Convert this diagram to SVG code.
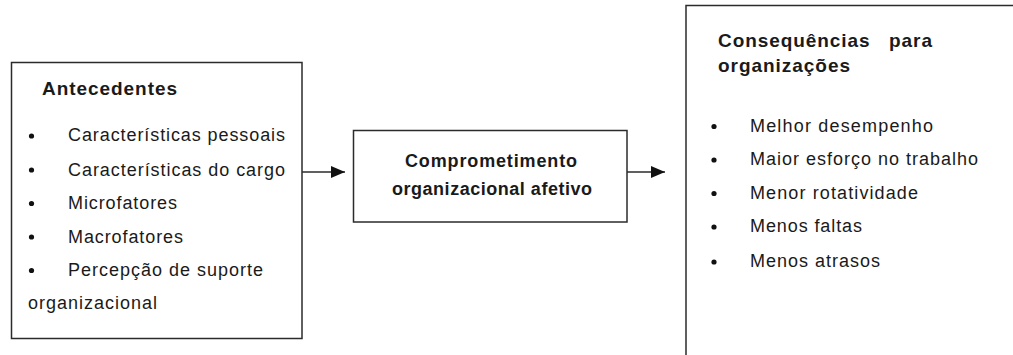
<svg xmlns="http://www.w3.org/2000/svg" width="1013" height="355" viewBox="0 0 1013 355">
  <style>
    .box { fill: #ffffff; stroke: #2b2b2b; stroke-width: 1.5; }
    .edge { stroke: #2b2b2b; stroke-width: 1.5; fill: none; }
    text { font-family: "Liberation Sans", Arial, sans-serif; fill: #1a1a1a; }
    .head { font-size: 19px; font-weight: bold; }
    .item { font-size: 18px; }
    .mid { font-size: 18px; font-weight: bold; }
    .dot { fill: #111111; }
  </style>
  <defs>
    <marker id="arrow" viewBox="0 0 14 12" refX="14" refY="6" markerWidth="14" markerHeight="12" markerUnits="userSpaceOnUse" orient="auto">
      <path d="M0,0 L14,6 L0,12 Z" fill="#111111"/>
    </marker>
  </defs>

  <rect width="1013" height="355" fill="#ffffff"/>

  <g id="connectors">
    <line class="edge" x1="302" y1="172" x2="345" y2="172" marker-end="url(#arrow)"/>
    <line class="edge" x1="627" y1="172" x2="665" y2="172" marker-end="url(#arrow)"/>
  </g>

  <g id="antecedentes">
    <rect class="box" x="11.5" y="62.5" width="290.5" height="276"/>
    <text class="head" x="42" y="95" textLength="135" lengthAdjust="spacing">Antecedentes</text>
    <circle class="dot" cx="31.5" cy="136" r="2.6"/>
    <circle class="dot" cx="31.5" cy="170" r="2.6"/>
    <circle class="dot" cx="31.5" cy="203.5" r="2.6"/>
    <circle class="dot" cx="31.5" cy="237" r="2.6"/>
    <circle class="dot" cx="31.5" cy="270.5" r="2.6"/>
    <text class="item" x="68" y="141" textLength="217" lengthAdjust="spacing">Características pessoais</text>
    <text class="item" x="68" y="175.5" textLength="217" lengthAdjust="spacing">Características do cargo</text>
    <text class="item" x="68" y="209" textLength="109" lengthAdjust="spacing">Microfatores</text>
    <text class="item" x="68" y="242.5" textLength="115" lengthAdjust="spacing">Macrofatores</text>
    <text class="item" x="68" y="276" textLength="195" lengthAdjust="spacing">Percepção de suporte</text>
    <text class="item" x="28" y="309" textLength="129" lengthAdjust="spacing">organizacional</text>
  </g>

  <g id="comprometimento">
    <rect class="box" x="353.5" y="130.5" width="273.5" height="91.5"/>
    <text class="mid" x="405" y="167" textLength="172" lengthAdjust="spacing">Comprometimento</text>
    <text class="mid" x="392" y="195" textLength="200" lengthAdjust="spacing">organizacional afetivo</text>
  </g>

  <g id="consequencias">
    <rect class="box" x="686" y="5.5" width="340" height="360"/>
    <text class="head" x="718" y="47" textLength="214" lengthAdjust="spacing" xml:space="preserve">Consequências   para</text>
    <text class="head" x="718" y="72" textLength="132" lengthAdjust="spacing">organizações</text>
    <circle class="dot" cx="714" cy="126.5" r="2.6"/>
    <circle class="dot" cx="714" cy="160" r="2.6"/>
    <circle class="dot" cx="714" cy="193.5" r="2.6"/>
    <circle class="dot" cx="714" cy="227" r="2.6"/>
    <circle class="dot" cx="714" cy="262" r="2.6"/>
    <text class="item" x="750" y="132" textLength="183" lengthAdjust="spacing">Melhor desempenho</text>
    <text class="item" x="750" y="165" textLength="228" lengthAdjust="spacing">Maior esforço no trabalho</text>
    <text class="item" x="750" y="198.5" textLength="168" lengthAdjust="spacing">Menor rotatividade</text>
    <text class="item" x="750" y="232" textLength="112" lengthAdjust="spacing">Menos faltas</text>
    <text class="item" x="750" y="267" textLength="130" lengthAdjust="spacing">Menos atrasos</text>
  </g>
</svg>
